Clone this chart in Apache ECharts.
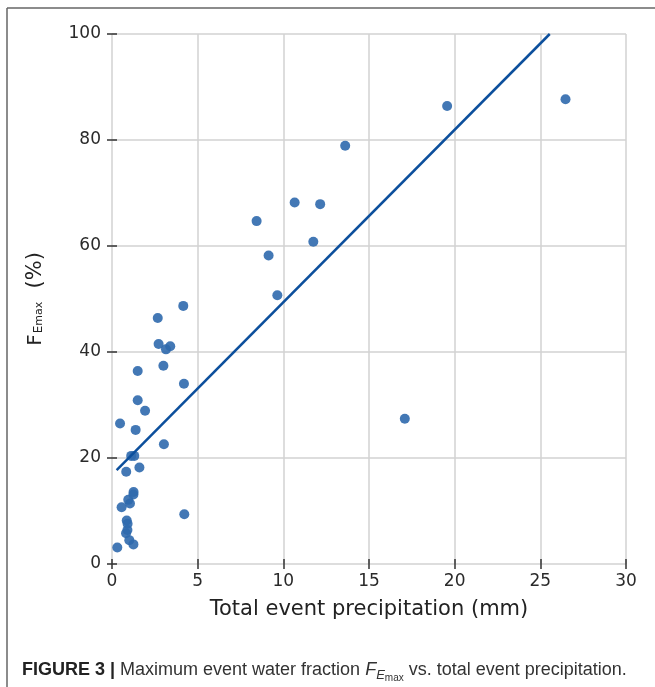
<!DOCTYPE html>
<html><head><meta charset="utf-8">
<script src="https://cdn.jsdelivr.net/npm/echarts@6/dist/echarts.min.js"></script>
<style>html,body{margin:0;padding:0;background:#fff}#c{width:655px;height:687px}</style>
</head><body><div id="c"></div>
<script>
// Total event precipitation (mm)
const precip = [19.56, 26.47, 13.61, 10.66, 12.15, 8.44, 11.75, 9.14, 9.65, 17.09,
  4.16, 2.67, 2.72, 3.15, 3.40, 3.00, 1.50, 4.20, 1.50, 1.93,
  0.47, 1.38, 3.03, 1.12, 1.30, 1.60, 0.83, 1.26, 1.25, 0.95,
  1.05, 0.56, 4.22, 0.86, 0.91, 0.82, 0.90, 1.01, 1.25, 0.31];
// Maximum event water fraction (%)
const fraction = [86.4, 87.7, 78.9, 68.2, 67.9, 64.7, 60.8, 58.2, 50.7, 27.4,
  48.7, 46.4, 41.5, 40.5, 41.1, 37.4, 36.4, 34.0, 30.9, 28.9,
  26.5, 25.3, 22.6, 20.4, 20.4, 18.2, 17.4, 13.6, 13.1, 12.1,
  11.4, 10.7, 9.4, 8.2, 7.6, 5.8, 6.4, 4.5, 3.7, 3.1];
// Regression line end points
const fitX = [0.27, 25.55];
const fitY = [17.7, 100];
const xTicks = [0, 5, 10, 15, 20, 25, 30];
const yTicks = [0, 20, 40, 60, 80, 100];

const chartFont = 'DejaVu Sans';
const tickColor = '#2a2a2a';
const gridColor = '#d2d2d2';

const scatterData = precip.map((x, i) => [x, fraction[i]]);
const lineData = fitX.map((x, i) => [x, fitY[i]]);

function axisBase(ticks, extra) {
  const step = ticks[1] - ticks[0];
  return Object.assign({
    type: 'value',
    min: ticks[0],
    max: ticks[ticks.length - 1],
    interval: step,
    axisLine: { show: false },
    axisTick: { show: true, length: 5, inside: false, lineStyle: { color: '#333', width: 1.5 } },
    splitLine: { show: false }
  }, extra);
}

const chart = echarts.init(document.getElementById('c'), null, { renderer: 'canvas' });
chart.setOption({
  animation: false,
  backgroundColor: '#fff',
  grid: { left: 112, right: 29, top: 34, bottom: 123, containLabel: false },
  xAxis: [
    axisBase(xTicks, {
      position: 'bottom',
      axisLabel: { show: true, fontSize: 17, color: tickColor, margin: 9, fontFamily: chartFont },
      splitLine: { show: true, lineStyle: { color: gridColor, width: 1.5 } },
      name: 'Total event precipitation (mm)',
      nameLocation: 'middle',
      nameGap: 35,
      nameTextStyle: { fontSize: 21, color: '#222', fontFamily: chartFont }
    }),
    axisBase(xTicks, { position: 'top', axisLabel: { show: false } })
  ],
  yAxis: [
    axisBase(yTicks, {
      position: 'left',
      axisLabel: { show: true, fontSize: 17, color: tickColor, margin: 11, fontFamily: chartFont },
      splitLine: { show: true, lineStyle: { color: gridColor, width: 1.5 } },
      name: '{f|F}{e|E}{m|max}{p|  (%)}',
      nameLocation: 'middle',
      nameRotate: 90,
      nameGap: 63,
      nameTextStyle: {
        color: '#222', fontFamily: chartFont,
        rich: {
          f: { fontSize: 20, lineHeight: 26, fontFamily: chartFont, color: '#222' },
          e: { fontSize: 12, verticalAlign: 'top', padding: [9.4, 0, 0, 1], fontFamily: chartFont, color: '#222' },
          m: { fontSize: 11, verticalAlign: 'top', padding: [10.2, 0, 0, 0], fontFamily: chartFont, color: '#222' },
          p: { fontSize: 21, lineHeight: 26, fontFamily: chartFont, color: '#222' }
        }
      }
    }),
    axisBase(yTicks, { position: 'right', axisLabel: { show: false } })
  ],
  series: [
    {
      type: 'scatter',
      data: scatterData,
      symbolSize: 10,
      itemStyle: { color: '#2f69ad', opacity: 0.9 },
      z: 2
    },
    {
      type: 'line',
      data: lineData,
      symbol: 'none',
      lineStyle: { color: '#0c4f9c', width: 2.5 },
      z: 3
    }
  ],
  graphic: [
    { type: 'line', shape: { x1: 7, y1: 8, x2: 655, y2: 8 }, style: { stroke: '#666', lineWidth: 1.5 } },
    { type: 'line', shape: { x1: 7, y1: 8, x2: 7, y2: 687 }, style: { stroke: '#666', lineWidth: 1.5 } },
    {
      type: 'text', left: 22, top: 656,
      style: {
        text: '{b|FIGURE 3 |} Maximum event water fraction {i|F}{s|E}{ss|max} vs. total event precipitation.',
        fontSize: 18, lineHeight: 28, fontFamily: 'Liberation Sans', fill: '#333',
        rich: {
          b: { fontSize: 18, lineHeight: 28, fontWeight: 'bold', fontFamily: 'Liberation Sans', fill: '#222' },
          i: { fontSize: 18, lineHeight: 28, fontStyle: 'italic', fontFamily: 'Liberation Sans', fill: '#333' },
          s: { fontSize: 13, verticalAlign: 'top', padding: [13, 0, 0, 0], fontStyle: 'italic', fontFamily: 'Liberation Sans', fill: '#333' },
          ss: { fontSize: 10, verticalAlign: 'top', padding: [17, 0, 0, 0], fontFamily: 'Liberation Sans', fill: '#333' }
        }
      }
    }
  ]
});
</script></body></html>
